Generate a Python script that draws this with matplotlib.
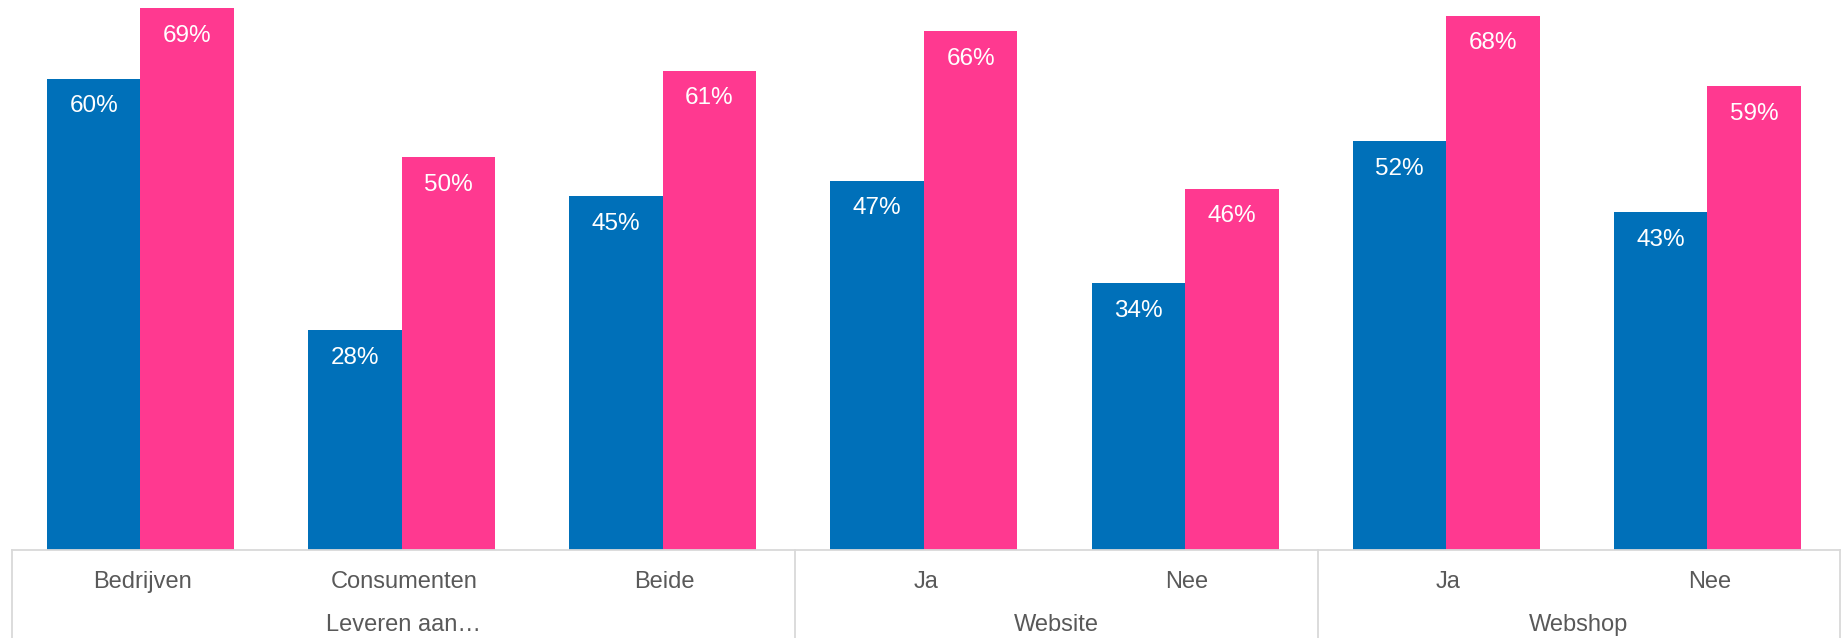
import matplotlib
matplotlib.use('Agg')
import matplotlib.pyplot as plt
import matplotlib.transforms as mtransforms
import numpy as np

categories = ['Bedrijven', 'Consumenten', 'Beide', 'Ja', 'Nee', 'Ja', 'Nee']
groups = ['Leveren aan\u2026', 'Website', 'Webshop']
group_sizes = [3, 2, 2]
blue_vals = [60, 28, 45, 47, 34, 52, 43]
pink_vals = [69, 50, 61, 66, 46, 68, 59]

blue = '#0070B9'
pink = '#FF3990'
grid_col = '#D9D9D9'
text_col = '#595959'

plt.rcParams['font.family'] = ['Liberation Sans', 'DejaVu Sans']

fig = plt.figure(figsize=(18.44, 6.38), dpi=100)
ax = fig.add_axes([12 / 1844, 88 / 638, 1828 / 1844, 550 / 638])

x = np.arange(len(categories))
w = 0.358
off = 0.179
bb = ax.bar(x - off - 0.008, blue_vals, w, color=blue, linewidth=0)
bp = ax.bar(x + off - 0.008, pink_vals, w, color=pink, linewidth=0)

for rects, vals in [(bb, blue_vals), (bp, pink_vals)]:
    for r, v in zip(rects, vals):
        ax.annotate(str(v) + '%', (r.get_x() + r.get_width() / 2, v),
                    xytext=(0, -20), textcoords='offset points',
                    ha='center', va='center', color='white', fontsize=17.5)

ax.set_xlim(-0.5, len(categories) - 0.5)
ax.set_ylim(0, 70)
ax.axis('off')

# bottom category box
tr = mtransforms.blended_transform_factory(ax.transData, fig.transFigure)
base_y = 88 / 638
ax.plot([-0.5, len(categories) - 0.5], [base_y, base_y], color=grid_col, lw=1.3,
        transform=tr, clip_on=False)
edges = np.concatenate([[0], np.cumsum(group_sizes)]) - 0.5
for e in edges:
    ax.plot([e, e], [0, base_y], color=grid_col, lw=1.3, transform=tr, clip_on=False)

for xi, c in zip(x, categories):
    ax.text(xi, 1 - 582 / 638, c, transform=tr, ha='center', va='center',
            fontsize=17, color=text_col)
for i, g in enumerate(groups):
    mid = (edges[i] + edges[i + 1]) / 2
    ax.text(mid, 1 - 625 / 638, g, transform=tr, ha='center', va='center',
            fontsize=17, color=text_col)

plt.savefig('out.png', dpi=100)
